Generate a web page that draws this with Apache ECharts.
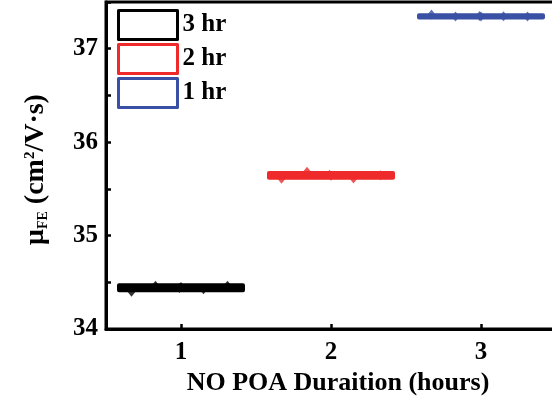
<!DOCTYPE html>
<html>
<head>
<meta charset="utf-8">
<script src="https://cdn.jsdelivr.net/npm/echarts@6/dist/echarts.min.js"></script>
<style>html,body{margin:0;padding:0;background:#fff}#c{width:552px;height:396px}</style>
</head>
<body>
<div id="c"></div>
<script>
// ---- data ----
const categories = ['1', '2', '3'];
const seriesNames = ['3 hr', '2 hr', '1 hr'];
const seriesColors = ['#000000', '#ee2a2a', '#3a50a4'];
// box stats per series: [min, Q1, median, Q3, max]
const box3hr = [34.415, 34.415, 34.44, 34.467, 34.467];
const box2hr = [35.62, 35.62, 35.645, 35.67, 35.67];
const box1hr = [37.335, 37.335, 37.347, 37.358, 37.358];
// raw points per series: [x position (jittered), value]
const pts3hr = [[0.67, 34.40], [0.83, 34.463], [0.99, 34.44], [1.0, 34.45], [1.15, 34.425], [1.31, 34.463]];
const pts2hr = [[1.67, 35.607], [1.84, 35.683], [1.99, 35.65], [2.0, 35.64], [2.15, 35.61], [2.33, 35.645]];
const pts1hr = [[2.67, 37.365], [2.83, 37.346], [2.99, 37.35], [3.0, 37.344], [3.15, 37.347], [3.31, 37.346]];
const yTicks = [34, 35, 36, 37];

const boxes = [box3hr, box2hr, box1hr];
const points = [pts3hr, pts2hr, pts1hr];
const FONT = 'Liberation Serif';
const FS = 25;

const chart = echarts.init(document.getElementById('c'), null, {renderer: 'canvas'});
const series = [];
boxes.forEach((b, i) => {
  series.push({
    name: seriesNames[i],
    type: 'boxplot',
    xAxisIndex: i,
    yAxisIndex: 0,
    boxWidth: [124, 124],
    encode: {x: 0, y: [1, 2, 3, 4, 5]},
    data: [[i].concat(b)],
    itemStyle: {color: seriesColors[i], borderColor: seriesColors[i], borderWidth: 4, borderJoin: 'round', borderCap: 'round'},
    emphasis: {disabled: true},
    z: 2
  });
});
points.forEach((p, i) => {
  series.push({
    name: seriesNames[i],
    type: 'scatter',
    xAxisIndex: 3,
    yAxisIndex: 0,
    symbol: 'diamond',
    symbolSize: [8, 10],
    itemStyle: {color: seriesColors[i]},
    data: p,
    z: 3
  });
});

const catAxis = (show) => ({
  type: 'category',
  data: categories,
  gridIndex: 0,
  show: show,
  boundaryGap: true,
  position: 'bottom',
  axisLine: {show: show, lineStyle: {color: '#000', width: 3}},
  axisTick: {show: show, inside: true, alignWithLabel: true, length: 5, lineStyle: {width: 2.5, color: '#000'}},
  axisLabel: {show: show, color: '#000', fontFamily: FONT, fontWeight: 'bold', fontSize: FS, margin: 11},
  splitLine: {show: false},
  name: show ? 'NO POA Duraition (hours)' : '',
  nameLocation: 'middle',
  nameGap: 38,
  nameTextStyle: {color: '#000', fontFamily: FONT, fontWeight: 'bold', fontSize: 26, padding: [0, 0, 0, 14]}
});

chart.setOption({
  animation: false,
  backgroundColor: '#fff',
  grid: {left: 106, top: 2, width: 450, height: 327, show: true, borderColor: '#000', borderWidth: 3, backgroundColor: 'transparent', containLabel: false, outerBoundsMode: 'none'},
  legend: {
    left: 117, top: 9, orient: 'vertical', padding: 0,
    itemWidth: 59, itemHeight: 29, itemGap: 2, itemTextGap: 5,
    textStyle: {color: '#000', fontFamily: FONT, fontWeight: 'bold', fontSize: FS, lineHeight: 27},
    data: seriesNames.map((n, i) => ({name: n, icon: 'rect', itemStyle: {color: '#fff', borderColor: seriesColors[i], borderWidth: 3, borderJoin: 'round'}})),
    selectedMode: false
  },
  xAxis: [catAxis(true), catAxis(false), catAxis(false), {
    type: 'value', min: 0.5, max: 3.5, show: false, gridIndex: 0
  }],
  yAxis: [{
    type: 'value', min: 34, max: 37.5, interval: 1,
    axisLine: {show: true, lineStyle: {color: '#000', width: 3}},
    axisTick: {show: true, inside: true, length: 5, lineStyle: {width: 2.5, color: '#000'}},
    minorTick: {show: true, splitNumber: 2, length: 5, lineStyle: {width: 2.5, color: '#000'}},
    splitLine: {show: false},
    axisLabel: {color: '#000', fontFamily: FONT, fontWeight: 'bold', fontSize: FS, margin: 8,
      formatter: v => (yTicks.indexOf(v) >= 0 ? String(v) : '')},
    name: '{mu|μ}{sub|FE}{n| (cm}{sup|2}{n|/V·s)}',
    nameLocation: 'middle',
    nameRotate: 90,
    nameGap: 54,
    nameTextStyle: {
      color: '#000', fontFamily: FONT, fontWeight: 'bold', fontSize: FS,
      padding: [0, 8, 0, 0],
      rich: {
        mu: {fontFamily: FONT, fontWeight: 'bold', fontSize: 28, color: '#000', lineHeight: 32, verticalAlign: 'middle'},
        n: {fontFamily: FONT, fontWeight: 'bold', fontSize: 28, color: '#000', lineHeight: 32, verticalAlign: 'middle'},
        sub: {fontFamily: FONT, fontWeight: 'bold', fontSize: 14, color: '#000', lineHeight: 32, verticalAlign: 'bottom', padding: [0, 0, 2, 0]},
        sup: {fontFamily: FONT, fontWeight: 'bold', fontSize: 15, color: '#000', lineHeight: 32, verticalAlign: 'top', padding: [3, 0, 0, 0]}
      }
    }
  }],
  series: series
});
</script>
</body>
</html>
